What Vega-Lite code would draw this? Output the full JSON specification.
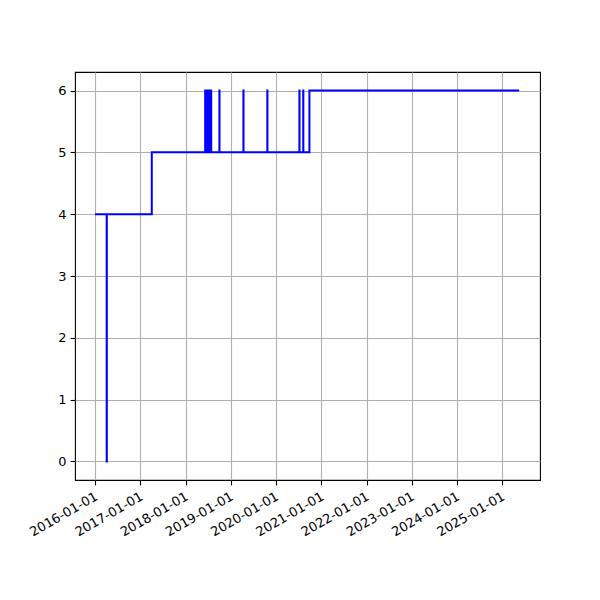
{
  "$schema": "https://vega.github.io/schema/vega-lite/v6.json",
  "width": 465,
  "height": 408,
  "autosize": {"type": "none"},
  "padding": {"left": 75, "top": 72, "right": 60, "bottom": 120},
  "background": "white",
  "config": {
    "view": {"stroke": "black", "strokeWidth": 1.1},
    "axis": {
      "labelFont": "DejaVu Sans",
      "labelFontSize": 13,
      "labelColor": "black",
      "domain": false,
      "tickColor": "black",
      "tickSize": 4.9,
      "tickWidth": 1.1,
      "gridColor": "#b0b0b0",
      "gridWidth": 1.1,
      "gridOpacity": 1,
      "labelPadding": 4,
      "title": null
    }
  },
  "data": {
    "values": [
      {"date": "2016-01-01", "value": 4},
      {"date": "2016-04-04", "value": 0},
      {"date": "2016-04-05", "value": 4},
      {"date": "2017-04-03", "value": 5},
      {"date": "2018-06-08", "value": 6},
      {"date": "2018-06-09", "value": 5},
      {"date": "2018-06-16", "value": 6},
      {"date": "2018-06-17", "value": 5},
      {"date": "2018-06-24", "value": 6},
      {"date": "2018-06-25", "value": 5},
      {"date": "2018-07-02", "value": 6},
      {"date": "2018-07-03", "value": 5},
      {"date": "2018-07-10", "value": 6},
      {"date": "2018-07-11", "value": 5},
      {"date": "2018-07-18", "value": 6},
      {"date": "2018-07-19", "value": 5},
      {"date": "2018-07-26", "value": 6},
      {"date": "2018-07-27", "value": 5},
      {"date": "2018-10-01", "value": 6},
      {"date": "2018-10-02", "value": 5},
      {"date": "2019-04-13", "value": 6},
      {"date": "2019-04-14", "value": 5},
      {"date": "2019-10-23", "value": 6},
      {"date": "2019-10-24", "value": 5},
      {"date": "2020-07-08", "value": 6},
      {"date": "2020-07-09", "value": 5},
      {"date": "2020-08-08", "value": 6},
      {"date": "2020-08-09", "value": 5},
      {"date": "2020-09-27", "value": 6},
      {"date": "2025-05-18", "value": 6}
    ]
  },
  "mark": {"type": "line", "interpolate": "step-after", "color": "#0000ff", "strokeWidth": 2},
  "encoding": {
    "x": {
      "field": "date",
      "type": "temporal",
      "scale": {
        "type": "utc",
        "domain": [
          {"year": 2015, "month": 7, "date": 23, "utc": true},
          {"year": 2025, "month": 11, "date": 2, "utc": true}
        ]
      },
      "axis": {
        "values": [
          {"year": 2016, "month": 1, "date": 1, "utc": true},
          {"year": 2017, "month": 1, "date": 1, "utc": true},
          {"year": 2018, "month": 1, "date": 1, "utc": true},
          {"year": 2019, "month": 1, "date": 1, "utc": true},
          {"year": 2020, "month": 1, "date": 1, "utc": true},
          {"year": 2021, "month": 1, "date": 1, "utc": true},
          {"year": 2022, "month": 1, "date": 1, "utc": true},
          {"year": 2023, "month": 1, "date": 1, "utc": true},
          {"year": 2024, "month": 1, "date": 1, "utc": true},
          {"year": 2025, "month": 1, "date": 1, "utc": true}
        ],
        "labelExpr": "utcFormat(datum.value, '%Y-%m-%d')",
        "labelAngle": -30,
        "labelAlign": "right",
        "labelBaseline": "top",
        "labelOffset": -2,
        "labelPadding": 5,
        "labelOverlap": false,
        "labelFlush": false
      }
    },
    "y": {
      "field": "value",
      "type": "quantitative",
      "scale": {"domain": [-0.3, 6.3], "nice": false, "zero": false},
      "axis": {"values": [0, 1, 2, 3, 4, 5, 6], "format": "d"}
    }
  }
}
